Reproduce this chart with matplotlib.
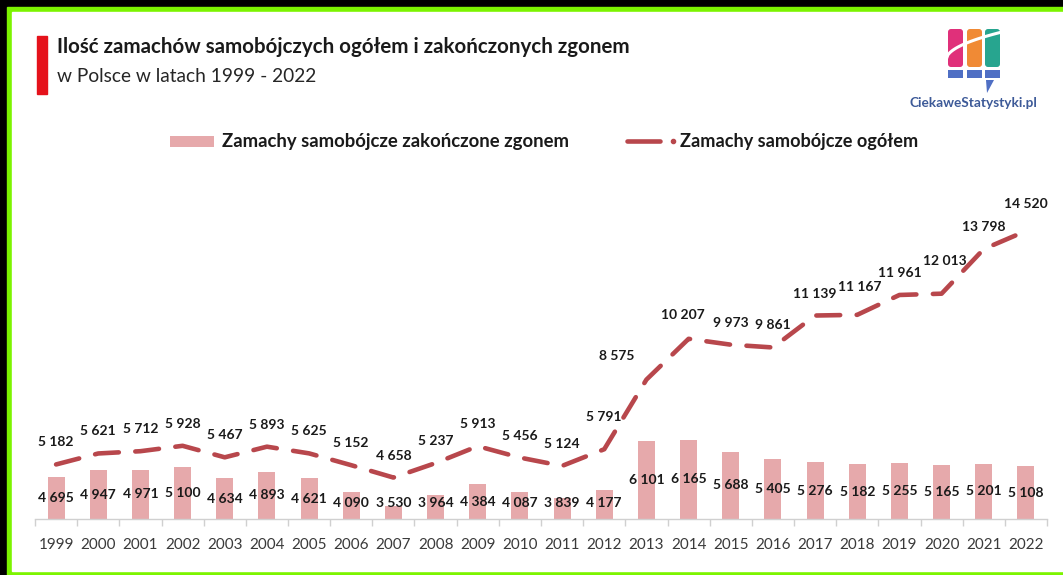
import numpy as np
import matplotlib
matplotlib.use("Agg")
import matplotlib.pyplot as plt
from matplotlib.patches import Rectangle, FancyBboxPatch, Polygon

plt.rcParams['font.family'] = ['Lato', 'DejaVu Sans']

years = list(range(1999, 2023))
deaths = [4695, 4947, 4971, 5100, 4634, 4893, 4621, 4090, 3530, 3964, 4384, 4087,
          3839, 4177, 6101, 6165, 5688, 5405, 5276, 5182, 5255, 5165, 5201, 5108]
total = [5182, 5621, 5712, 5928, 5467, 5893, 5625, 5152, 4658, 5237, 5913, 5456,
         5124, 5791, 8575, 10207, 9973, 9861, 11139, 11167, 11961, 12013, 13798, 14520]

title = "Ilość zamachów samobójczych ogółem i zakończonych zgonem"
subtitle = "w Polsce w latach 1999 - 2022"
label_bars = "Zamachy samobójcze zakończone zgonem"
label_line = "Zamachy samobójcze ogółem"

W, H = 1063, 575
BAR = '#e6a9ab'
LINE = '#b8474c'

def fmt(v):
    return f"{v:,}".replace(",", " ")

fig = plt.figure(figsize=(W / 100, H / 100), dpi=100)
fig.patch.set_facecolor('black')

# background layer in pixel coordinates
bg = fig.add_axes([0, 0, 1, 1], zorder=0)
bg.set_xlim(0, W)
bg.set_ylim(H, 0)
bg.axis('off')
bg.add_patch(Rectangle((7, 7), W, H, color='#7cf400'))
bg.add_patch(Rectangle((12, 12), W, 571 - 12, color='white'))

# red title marker
bg.add_patch(Rectangle((37, 36), 10, 58, color='#e5121b'))
bg.text(57, 47, title, fontsize=14.8, fontweight='bold', color='#1a1a1a', va='center', ha='left')
bg.text(57, 76, subtitle, fontsize=13.8, color='#262626', va='center', ha='left')

# logo
for x0, c in [(948, '#e0307a'), (967, '#f08a35'), (985, '#27a58f')]:
    bg.add_patch(FancyBboxPatch((x0, 29), 15, 38, boxstyle='round,pad=0,rounding_size=3', color=c, lw=0))
    bg.add_patch(Rectangle((x0, 70), 15, 8, color='#4f6fc4', lw=0))
t = np.linspace(0, 1, 30)
bg.plot(946 + 56 * t, 60 - 28 * np.sqrt(t), color='white', lw=2.2)
bg.add_patch(Polygon([(986, 80), (994, 80), (987, 93)], closed=True, color='#4f6fc4', lw=0))
bg.text(973, 103, "CiekaweStatystyki.pl", fontsize=9.8, fontweight='bold', color='#3d5a98',
        va='center', ha='center')

# legend
bg.add_patch(Rectangle((170, 136), 44, 11, color=BAR, lw=0))
bg.text(222, 141, label_bars, fontsize=13.3, fontweight='bold', color='#1a1a1a', va='center', ha='left')
bg.plot([627, 660], [141, 141], color=LINE, lw=3.3, solid_capstyle='round')
bg.plot([673], [141], 'o', color=LINE, ms=3)
bg.text(680, 141, label_line, fontsize=13.1, fontweight='bold', color='#1a1a1a', va='center', ha='left')

# chart
y0 = 3000
y1 = 16000
px = 40.0
left, right, base = 35, 1047, 519
top = base - (y1 - y0) / px
ax = fig.add_axes([left / W, 1 - base / H, (right - left) / W, (base - top) / H], zorder=1)
ax.patch.set_alpha(0)
x = np.arange(len(years))
ax.bar(x, np.array(deaths) - y0, bottom=y0, width=0.4, color=BAR, zorder=2)
ax.plot(x, total, color=LINE, lw=3.3, dashes=(5.2, 3.6), dash_capstyle='round', zorder=3)
ax.set_xlim(-0.5, len(years) - 0.5)
ax.set_ylim(y0, y1)

for i, v in enumerate(deaths):
    yl = max((y0 + v) / 2, y0 + 16 * px)
    ax.text(i, yl, fmt(v), ha='center', va='center', fontsize=10, fontweight='bold', color='#1a1a1a', zorder=4)

offsets = {2012: (0, 32), 2013: (-30, 24), 2014: (-6, 24), 2018: (2, 28), 2020: (3, 33), 2022: (0, 27)}
for i, (yr, v) in enumerate(zip(years, total)):
    dx, dy = offsets.get(yr, (0, 22))
    ax.annotate(fmt(v), (i, v), xytext=(dx, dy), textcoords='offset pixels', ha='center', va='center',
                fontsize=10, fontweight='bold', color='#1a1a1a', zorder=4)

for s in ['top', 'right', 'left']:
    ax.spines[s].set_visible(False)
ax.spines['bottom'].set_color('#d0d0d0')
ax.spines['bottom'].set_linewidth(1)
ax.set_yticks([])
ax.set_xticks(np.arange(-0.5, len(years)), minor=False)
ax.set_xticklabels([])
ax.tick_params(axis='x', length=5, color='#d0d0d0', width=1)
ax.set_xticks(x, minor=True)
ax.set_xticklabels([str(y) for y in years], minor=True)
ax.tick_params(axis='x', which='minor', length=0, pad=14, labelsize=11, labelcolor='#3a3a3a')

fig.savefig('out.png', dpi=100, facecolor=fig.get_facecolor())
